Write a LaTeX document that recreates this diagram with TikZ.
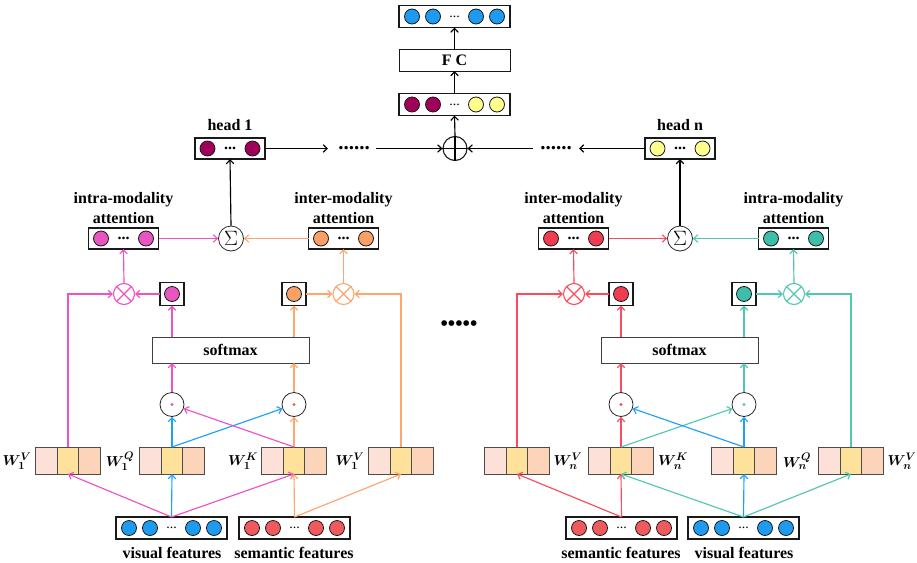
\documentclass[tikz,border=0pt]{standalone}
\usepackage{amsmath,bm}
\usepackage{fontspec}
\setmainfont{Liberation Serif}
\usetikzlibrary{arrows.meta,calc}
\definecolor{cpink}{RGB}{238,82,196}
\definecolor{fpink}{RGB}{232,84,192}
\definecolor{corange}{RGB}{255,165,110}
\definecolor{forange}{RGB}{250,160,100}
\definecolor{cblue}{RGB}{30,160,250}
\definecolor{fblue}{RGB}{30,155,240}
\definecolor{cred}{RGB}{250,75,95}
\definecolor{fred}{RGB}{240,60,80}
\definecolor{fsem}{RGB}{240,90,95}
\definecolor{cteal}{RGB}{80,200,180}
\definecolor{fteal}{RGB}{60,190,170}
\definecolor{cmaroon}{RGB}{160,0,90}
\definecolor{cyellow}{RGB}{255,255,140}
\definecolor{cdotor}{RGB}{235,110,40}
\definecolor{wp}{RGB}{253,224,216}
\definecolor{wy}{RGB}{254,226,156}
\definecolor{wo}{RGB}{252,212,186}
\newcommand\vecfour[7]{%
  \node[vbox, minimum width=111pt, minimum height=22pt] (#1) at (#2,#3) {};
  \node[vdot,fill=#4] (#1-1) at ($(#1)+(-42.5,0)$) {};
  \node[vdot,fill=#5] (#1-2) at ($(#1)+(-21.5,0)$) {};
  \node[vdot,fill=#6] (#1-3) at ($(#1)+(21.5,0)$) {};
  \node[vdot,fill=#7] (#1-4) at ($(#1)+(42.5,0)$) {};
  \node[vdd] (#1-d) at (#1) {...};}
\newcommand\vectwo[4]{%
  \node[vbox, minimum width=70pt, minimum height=21pt] (#1) at (#2,#3) {};
  \node[vdot,fill=#4] (#1-1) at ($(#1)+(-22.5,0)$) {};
  \node[vdot,fill=#4] (#1-2) at ($(#1)+(22.5,0)$) {};
  \node[vddb] (#1-d) at (#1) {...};}
\newcommand\sqbox[4]{%
  \node[vbox, minimum width=24pt, minimum height=23pt] (#1) at (#2,#3) {};
  \node[vdot,fill=#4] (#1-c) at (#1) {};}
\newcommand\wbox[3]{%
  \node[wcell,fill=wy] (#1) at (#2,#3) {};
  \node[wcell,fill=wp,anchor=east] (#1l) at (#1.west) {};
  \node[wcell,fill=wo,anchor=west] (#1r) at (#1.east) {};}
\newcommand\otimesnode[4]{%
  \node[circle, draw=#4, line width=1.1pt, minimum size=21pt, inner sep=0] (#1) at (#2,#3) {};
  \draw[#4, line width=1.1pt] (#1.north west) -- (#1.south east) (#1.north east) -- (#1.south west);}
\newcommand\odotnode[4]{%
  \node[circle, draw=black!85, line width=0.8pt, minimum size=24pt, inner sep=0] (#1) at (#2,#3) {};
  \fill[#4] (#1) circle (1.7pt);}
\begin{document}
\begin{tikzpicture}[x=1pt,y=-1pt,
  vbox/.style={draw=black!90, line width=1.2pt, fill=white, inner sep=0, outer sep=0},
  vdot/.style={circle, draw=black!90, line width=0.8pt, minimum size=15pt, inner sep=0},
  vdd/.style={inner sep=0, font=\fontsize{14}{14}\selectfont},
  vddb/.style={inner sep=0, font=\bfseries\fontsize{16}{16}\selectfont},
  wcell/.style={draw=black!70, line width=0.9pt, minimum width=21.5pt, minimum height=27pt, inner sep=0, outer sep=0},
  arr/.style={-{Straight Barb[length=4pt,width=7.5pt]}, line width=1.15pt},
  lbl/.style={font=\bfseries\fontsize{16}{20}\selectfont, align=center, inner sep=0},
  wl/.style={inner sep=0, font=\fontsize{15}{18}\selectfont},
  sig/.style={circle, draw=black!85, line width=0.8pt, minimum size=25pt, inner sep=0}]
\useasboundingbox (0,0) rectangle (917,562);

% ---------- top stack ----------
\vecfour{out}{454.5}{16.5}{fblue}{fblue}{fblue}{fblue}
\node[vbox, line width=1pt, minimum width=111pt, minimum height=22pt, font=\bfseries\fontsize{16}{16}\selectfont] (fc) at (454.5,60) {F C};
\vecfour{cat}{454.5}{104.5}{cmaroon}{cmaroon}{cyellow}{cyellow}
\node[circle, draw=black!90, line width=1.1pt, minimum size=24pt, inner sep=0] (oplus) at (455,148.5) {};
\draw[line width=1.1pt] (oplus.north) -- (oplus.south) (oplus.west) -- (oplus.east);
\draw[arr] (oplus.north) -- (cat.south);
\draw[arr] (cat.north) -- (fc.south);
\draw[arr] (fc.north) -- (out.south);

% ---------- heads ----------
\vectwo{head1}{230}{148.5}{cmaroon}
\node[lbl] (head1l) at (230,125) {head 1};
\vectwo{headn}{680}{148.5}{cyellow}
\node[lbl] (headnl) at (680,125) {head n};
\coordinate (h1e) at (328,148.5);
\draw[arr] (head1.east) -- (h1e);
\node[inner sep=0, font=\bfseries\fontsize{21}{21}\selectfont] (dl) at (354,148.5) {......};
\coordinate (ls) at (376,148.5);
\draw[arr] (ls) -- (oplus.west);
\coordinate (hne) at (579,148.5);
\draw[arr] (headn.west) -- (hne);
\node[inner sep=0, font=\bfseries\fontsize{21}{21}\selectfont] (dr) at (556,148.5) {......};
\coordinate (rs) at (533,148.5);
\draw[arr] (rs) -- (oplus.east);
\node[inner sep=0, font=\bfseries\fontsize{21}{21}\selectfont] (mid) at (459,326) {•••••};

% ================= LEFT HEAD =================
\vectwo{intraL}{123.5}{238.5}{fpink}
\node[lbl, anchor=south] (intraLl) at (123.5,224) {intra-modality\\attention};
\vectwo{interL}{343.5}{238.5}{forange}
\node[lbl, anchor=south] (interLl) at (343.5,224) {inter-modality\\attention};
\node[sig] (sigL) at (231,238.5) {\fontsize{20}{20}\selectfont$\Sigma$};
\draw[arr,cpink] (intraL.east) -- (sigL.west);
\draw[arr,corange] (interL.west) -- (sigL.east);
\draw[arr] (sigL.north) -- (head1.south);

\otimesnode{otL1}{124}{294}{cpink}
\otimesnode{otL2}{343.5}{294}{corange}
\sqbox{sqL1}{172}{294}{fpink}
\sqbox{sqL2}{294}{294}{forange}
\draw[arr,cpink] (otL1.north) -- (intraL.south);
\draw[arr,corange] (otL2.north) -- (interL.south);
\draw[arr,cpink] (sqL1.west) -- (otL1.east);
\draw[arr,corange] (sqL2.east) -- (otL2.west);

\node[vbox, draw=black!75, line width=0.9pt, minimum width=157pt, minimum height=26pt, font=\bfseries\fontsize{16}{16}\selectfont] (smL) at (230.5,350) {softmax};
\odotnode{odL1}{172}{404.5}{cpink}
\odotnode{odL2}{294}{404.5}{cdotor}

\wbox{W1Va}{68}{460.5}
\wbox{W1Q}{172}{460.5}
\wbox{W1K}{294}{460.5}
\wbox{W1Vb}{401}{460.5}
\node[wl] (lW1Va) at (17,461) {$\bm{W_1^V}$};
\node[wl] (lW1Q) at (120,461) {$\bm{W_1^Q}$};
\node[wl] (lW1K) at (243,461) {$\bm{W_1^K}$};
\node[wl] (lW1Vb) at (350,461) {$\bm{W_1^V}$};

\vecfour{visL}{171.5}{528}{fblue}{fblue}{fblue}{fblue}
\vecfour{semL}{294.5}{528}{fsem}{fsem}{fsem}{fsem}
\node[lbl] (visLl) at (172,553) {visual features};
\node[lbl] (semLl) at (294,553) {semantic features};

\draw[arr,cpink] (visL.north) -- (W1Va.south);
\draw[arr,cblue] (visL.north) -- (W1Q.south);
\draw[arr,cpink] (visL.north) -- (W1K.south);
\draw[arr,corange] (semL.north) -- (W1K.south);
\draw[arr,corange] (semL.north) -- (W1Vb.south);
\draw[arr,cblue] (W1Q.north) -- (odL1.south);
\draw[arr,cblue] (W1Q.north) -- (odL2);
\draw[arr,corange] (W1K.north) -- (odL2.south);
\draw[arr,cpink] (W1K.north) -- (odL1);
\draw[arr,cpink] (odL1.north) -- (odL1.north |- smL.south);
\draw[arr,corange] (odL2.north) -- (odL2.north |- smL.south);
\draw[arr,cpink] (sqL1.south |- smL.north) -- (sqL1.south);
\draw[arr,corange] (sqL2.south |- smL.north) -- (sqL2.south);
\draw[arr,cpink] (W1Va.north) |- (otL1.west);
\draw[arr,corange] (W1Vb.north) |- (otL2.east);

% ================= RIGHT HEAD =================
\vectwo{interR}{573.5}{238.5}{fred}
\node[lbl, anchor=south] (interRl) at (573.5,224) {inter-modality\\attention};
\vectwo{intraR}{793.5}{238.5}{fteal}
\node[lbl, anchor=south] (intraRl) at (793.5,224) {intra-modality\\attention};
\node[sig] (sigR) at (680,238.5) {\fontsize{20}{20}\selectfont$\Sigma$};
\draw[arr,cred] (interR.east) -- (sigR.west);
\draw[arr,cteal] (intraR.west) -- (sigR.east);
\draw[arr] (sigR.north) -- (headn.south);

\otimesnode{otR1}{574}{294}{cred}
\otimesnode{otR2}{794}{294}{cteal}
\sqbox{sqR1}{621}{294}{fred}
\sqbox{sqR2}{744}{294}{fteal}
\draw[arr,cred] (otR1.north) -- (interR.south);
\draw[arr,cteal] (otR2.north) -- (intraR.south);
\draw[arr,cred] (sqR1.west) -- (otR1.east);
\draw[arr,cteal] (sqR2.east) -- (otR2.west);

\node[vbox, draw=black!75, line width=0.9pt, minimum width=157pt, minimum height=26pt, font=\bfseries\fontsize{16}{16}\selectfont] (smR) at (679.5,350) {softmax};
\odotnode{odR1}{621}{404.5}{cred}
\odotnode{odR2}{744}{404.5}{cteal}

\wbox{WnVa}{517}{460.5}
\wbox{WnK}{621}{460.5}
\wbox{WnQ}{744}{460.5}
\wbox{WnVb}{851}{460.5}
\node[wl] (lWnVa) at (568,461) {$\bm{W}^{\bm{V}}_{\bm{n}}$};
\node[wl] (lWnK) at (673,461) {$\bm{W}^{\bm{K}}_{\bm{n}}$};
\node[wl] (lWnQ) at (797,461) {$\bm{W}^{\bm{Q}}_{\bm{n}}$};
\node[wl] (lWnVb) at (902,461) {$\bm{W}^{\bm{V}}_{\bm{n}}$};

\vecfour{semR}{621.5}{528}{fsem}{fsem}{fsem}{fsem}
\vecfour{visR}{743.5}{528}{fblue}{fblue}{fblue}{fblue}
\node[lbl] (semRl) at (621,553) {semantic features};
\node[lbl] (visRl) at (744,553) {visual features};

\draw[arr,cred] (semR.north) -- (WnVa.south);
\draw[arr,cred] (semR.north) -- (WnK.south);
\draw[arr,cteal] (visR.north) -- (WnK.south);
\draw[arr,cblue] (visR.north) -- (WnQ.south);
\draw[arr,cteal] (visR.north) -- (WnVb.south);
\draw[arr,cred] (WnK.north) -- (odR1.south);
\draw[arr,cteal] (WnK.north) -- (odR2);
\draw[arr,cblue] (WnQ.north) -- (odR2.south);
\draw[arr,cblue] (WnQ.north) -- (odR1);
\draw[arr,cred] (odR1.north) -- (odR1.north |- smR.south);
\draw[arr,cteal] (odR2.north) -- (odR2.north |- smR.south);
\draw[arr,cred] (sqR1.south |- smR.north) -- (sqR1.south);
\draw[arr,cteal] (sqR2.south |- smR.north) -- (sqR2.south);
\draw[arr,cred] (WnVa.north) |- (otR1.west);
\draw[arr,cteal] (WnVb.north) |- (otR2.east);
\end{tikzpicture}
\end{document}
